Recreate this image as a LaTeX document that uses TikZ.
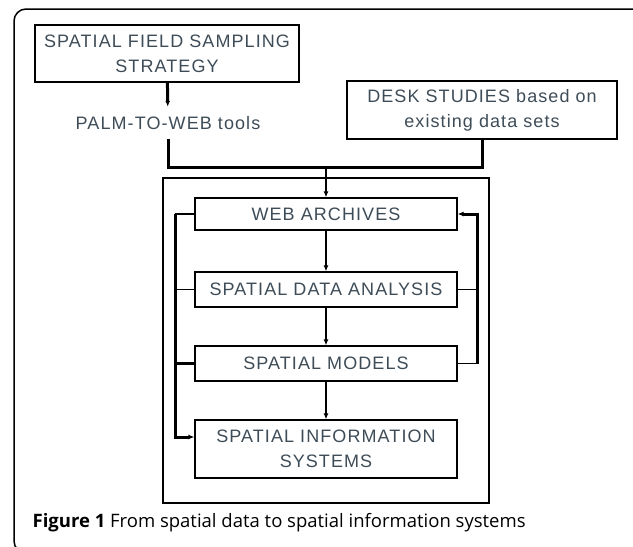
\documentclass[tikz,border=0pt]{standalone}
\usepackage{fontspec}
\usetikzlibrary{arrows.meta}
\newfontfamily\boxfont[LetterSpace=6]{Liberation Sans}
\newfontfamily\capfont{Open Sans}
\definecolor{ink}{HTML}{3E4C57}

\begin{document}
\begin{tikzpicture}
[x=1pt, y=-1pt, line width=1.2pt,
font={\boxfont\fontsize{18}{25}\selectfont}, text=ink,
stepbox/.style={rectangle, draw=black, inner sep=0pt, align=center, minimum width=262pt, minimum height=35pt},
link/.style={line width=1.3pt},
bus/.style={line width=3pt},
tip/.style={-{Latex[length=6pt,width=5pt]}}]

\useasboundingbox (0,0) rectangle (633,547);

% outer frame and inner frame
\draw[line width=1.5pt, rounded corners=12pt] (650,9) -- (14,9) -- (14,553) -- (40,553);
\node[draw, inner sep=0pt, minimum width=326pt, minimum height=325pt] (frame) at (326,340.5) {};

\node[stepbox, minimum width=264pt, minimum height=57pt] (sfs) at (167,53.5) {SPATIAL FIELD SAMPLING\\STRATEGY};
\node[inner xsep=3pt, inner ysep=9pt] (palm) at (168,123) {PALM-TO-WEB tools};
\node[stepbox, minimum width=270pt, minimum height=58pt] (desk) at (482,110) {DESK STUDIES based on\\existing data sets};
\coordinate (join) at (326,167);

\node[stepbox, minimum height=32pt] (wa) at (326,214) {WEB ARCHIVES};
\node[stepbox] (sda) at (326,289.5) {SPATIAL DATA ANALYSIS};
\node[stepbox] (sm) at (326,363.5) {SPATIAL MODELS};
\node[stepbox, minimum height=58pt] (sis) at (326,449) {SPATIAL INFORMATION\\SYSTEMS};

\coordinate (lbus) at (175,0);
\coordinate (rbus) at (477,0);

\draw[bus, tip] (sfs) -- (palm);
\draw[bus] (palm.south) |- (join) -| (desk.south);
\draw[link, tip] (join) -- (wa.north);

\foreach \a/\b in {wa/sda, sda/sm, sm/sis} {
  \draw[link, tip] (\a) -- (\b);
}

% left bus
\draw[link] (wa.west) -- (wa.west -| lbus);
\draw[link] (sda.west) -- (sda.west -| lbus);
\draw[bus] (sm.west) -- (sm.west -| lbus);
\draw[bus, tip] (wa.west -| lbus) |- ([yshift=12pt]sis.west);

% right bus
\draw[link] (sda.east) -- (sda.east -| rbus);
\draw[link] (sm.east) -- (sm.east -| rbus);
\draw[bus, tip] (sm.east -| rbus) |- (wa.east);

\node[anchor=base west, inner sep=0pt, text=black, font={\capfont\fontsize{18.5}{22}\selectfont}] (caption) at (32,527) {\textbf{Figure 1} From spatial data to spatial information systems};
\end{tikzpicture}
\end{document}
